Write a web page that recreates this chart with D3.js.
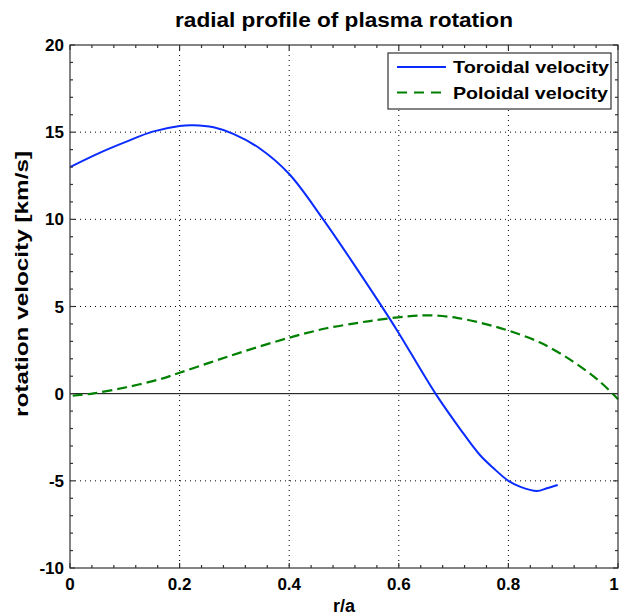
<!DOCTYPE html>
<html><head><meta charset="utf-8">
<script src="https://cdn.jsdelivr.net/npm/d3@7"></script>
<style>
body{margin:0;background:#fff;}
text{font-family:"Liberation Sans",Arial,Helvetica,sans-serif;font-weight:bold;}
</style></head><body>
<svg id="c" width="620" height="615"></svg>
<script>
const toroidalR = [0,0.055,0.103,0.151,0.2,0.225,0.262,0.298,0.347,0.4,0.462,0.523,0.581,0.602,0.667,0.712,0.748,0.773,0.8,0.821,0.852,0.87,0.89];
const toroidalV = [13.0,13.83,14.46,15.03,15.36,15.40,15.28,14.9,14.05,12.6,10.0,7.19,4.42,3.37,0,-2.03,-3.52,-4.28,-5.0,-5.33,-5.58,-5.43,-5.24];
const poloidalR = [0.005,0.043,0.103,0.164,0.2,0.255,0.316,0.4,0.468,0.523,0.554,0.614,0.657,0.706,0.755,0.8,0.858,0.918,0.967,1.0];
const poloidalV = [-0.12,0.02,0.37,0.83,1.2,1.78,2.41,3.21,3.75,4.05,4.2,4.43,4.49,4.35,4.02,3.62,2.93,1.84,0.69,-0.32];
const xTicks = [0,0.2,0.4,0.6,0.8,1];
const yTicks = [-10,-5,0,5,10,15,20];
const seriesNames = ["Toroidal velocity","Poloidal velocity"];
const titleText = "radial profile of plasma rotation";
const xLabel = "r/a", yLabel = "rotation velocity [km/s]";

const svg = d3.select("#c");
const L=70,R=618,T=45,B=568;
const x = d3.scaleLinear().domain([0,1]).range([L,R]);
const y = d3.scaleLinear().domain([-10,20]).range([B,T]);
const axisCol="#333";
const blue="#0a2cff", green="#008000";

// grid
const g = svg.append("g");
xTicks.filter(t=>t>0&&t<1).forEach(t=>{
  g.append("line").attr("x1",x(t)).attr("x2",x(t)).attr("y1",T).attr("y2",B)
   .attr("stroke","#000").attr("stroke-width",1).attr("stroke-dasharray","1,4");
});
yTicks.filter(t=>t>-10&&t<20&&t!==0).forEach(t=>{
  g.append("line").attr("x1",L).attr("x2",R).attr("y1",y(t)).attr("y2",y(t))
   .attr("stroke","#000").attr("stroke-width",1).attr("stroke-dasharray","1,4");
});
// zero line
svg.append("line").attr("x1",x(0)).attr("x2",x(1)).attr("y1",y(0)).attr("y2",y(0)).attr("stroke","#000").attr("stroke-width",1);

// lines
const line = d3.line().x(d=>x(d[0])).y(d=>y(d[1])).curve(d3.curveCatmullRom.alpha(0.5));
svg.append("path").datum(toroidalR.map((r,i)=>[r,toroidalV[i]]))
  .attr("d",line).attr("fill","none").attr("stroke",blue).attr("stroke-width",2);
svg.append("path").datum(poloidalR.map((r,i)=>[r,poloidalV[i]]))
  .attr("d",line).attr("fill","none").attr("stroke",green).attr("stroke-width",2.2).attr("stroke-dasharray","10,5");

// axes
const minorX = d3.range(0,1.0001,0.04), minorY = d3.range(-10,20.001,1);
const ax = svg.append("g").attr("stroke",axisCol).attr("stroke-width",1.2);
ax.append("rect").attr("x",L).attr("y",T).attr("width",R-L).attr("height",B-T).attr("fill","none");
minorX.forEach(t=>{
  const len = xTicks.some(m=>Math.abs(m-t)<1e-6)?5:3;
  ax.append("line").attr("x1",x(t)).attr("x2",x(t)).attr("y1",B).attr("y2",B-len);
  ax.append("line").attr("x1",x(t)).attr("x2",x(t)).attr("y1",T).attr("y2",T+len);
});
minorY.forEach(t=>{
  const r=Math.round(t);
  const len = (Math.abs(t-r)<1e-6 && r%5===0)?5:3;
  ax.append("line").attr("x1",L).attr("x2",L+len).attr("y1",y(t)).attr("y2",y(t));
  ax.append("line").attr("x1",R).attr("x2",R-len).attr("y1",y(t)).attr("y2",y(t));
});

// tick labels
const fmtX = d=>String(d);
svg.append("g").selectAll("text").data(xTicks).join("text")
  .attr("x",d=>d===1?Math.min(x(d),614):x(d)).attr("y",B+22).attr("text-anchor","middle").attr("font-size",17).text(fmtX);
svg.append("g").selectAll("text").data(yTicks).join("text")
  .attr("x",L-6).attr("y",d=>y(d)+6).attr("text-anchor","end").attr("font-size",17).text(d=>d);

// title & labels
svg.append("text").attr("x",(L+R)/2).attr("y",27).attr("text-anchor","middle").attr("font-size",20)
  .attr("textLength",338).attr("lengthAdjust","spacingAndGlyphs").text(titleText);
svg.append("text").attr("x",344).attr("y",612).attr("text-anchor","middle").attr("font-size",18)
  .attr("textLength",22).attr("lengthAdjust","spacingAndGlyphs").text(xLabel);
svg.append("text").attr("transform",`translate(28,284) rotate(-90)`).attr("text-anchor","middle").attr("font-size",18)
  .attr("textLength",266).attr("lengthAdjust","spacingAndGlyphs").text(yLabel);

// legend
const lg = svg.append("g");
lg.append("rect").attr("x",388).attr("y",53).attr("width",223).attr("height",56).attr("fill","#fff").attr("stroke",axisCol).attr("stroke-width",1.2);
const cols=[blue,green], dash=[null,"10,7"], lens=[156,155];
seriesNames.forEach((s,i)=>{
  const yy = 67+i*25.5;
  lg.append("line").attr("x1",397).attr("x2",446).attr("y1",yy).attr("y2",yy)
    .attr("stroke",cols[i]).attr("stroke-width",2).attr("stroke-dasharray",dash[i]);
  lg.append("text").attr("x",453).attr("y",yy+6).attr("font-size",17)
    .attr("textLength",lens[i]).attr("lengthAdjust","spacingAndGlyphs").text(s);
});
</script></body></html>
